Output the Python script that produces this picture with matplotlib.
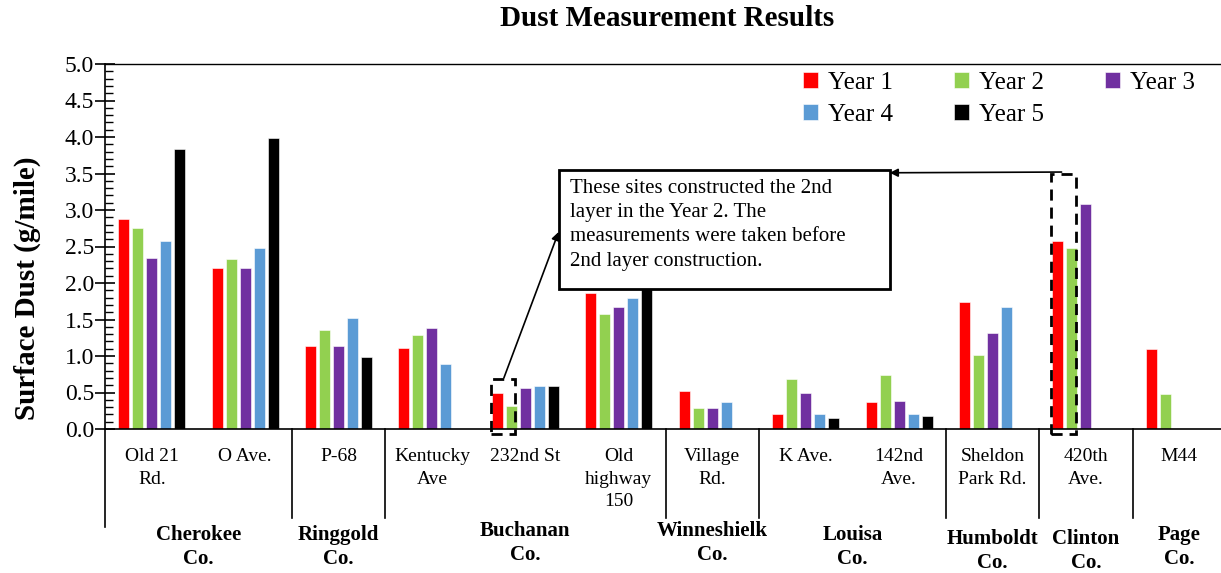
import numpy as np
import matplotlib
matplotlib.use("Agg")
import matplotlib.pyplot as plt
from matplotlib.patches import Rectangle
from matplotlib.ticker import MultipleLocator
import matplotlib.transforms as mtransforms

plt.rcParams['font.family'] = ['Liberation Serif', 'DejaVu Serif']

nan = np.nan
sites = ['Old 21\nRd.', 'O Ave.', 'P-68', 'Kentucky\nAve', '232nd St',
         'Old\nhighway\n150', 'Village\nRd.', 'K Ave.', '142nd\nAve.',
         'Sheldon\nPark Rd.', '420th\nAve.', 'M44']
counties = ['Cherokee\nCo.', 'Ringgold\nCo.', 'Buchanan\nCo.', 'Winneshielk\nCo.',
            'Louisa\nCo.', 'Humboldt\nCo.', 'Clinton\nCo.', 'Page\nCo.']
county_sites = [2, 1, 3, 1, 2, 1, 1, 1]

year_names = ['Year 1', 'Year 2', 'Year 3', 'Year 4', 'Year 5']
year1 = [2.88, 2.21, 1.14, 1.11, 0.49, 1.86, 0.52, 0.20, 0.37, 1.74, 2.58, 1.09]
year2 = [2.76, 2.33, 1.35, 1.29, 0.31, 1.58, 0.29, 0.69, 0.74, 1.01, 2.48, 0.48]
year3 = [2.34, 2.21, 1.14, 1.39, 0.56, 1.67, 0.29, 0.49, 0.39, 1.31, 3.08, nan]
year4 = [2.57, 2.48, 1.52, 0.89, 0.59, 1.79, 0.37, 0.20, 0.20, 1.67, nan, nan]
year5 = [3.84, 3.98, 0.99, nan, 0.59, 2.30, nan, 0.15, 0.18, nan, nan, nan]
colors = ['#FF0000', '#92D050', '#7030A0', '#5B9BD5', '#000000']

note = ("These sites constructed the 2nd\nlayer in the Year 2. The\n"
        "measurements were taken before\n2nd layer construction.")

fig = plt.figure(figsize=(12.21, 5.73), dpi=100)
ax = fig.add_axes([105/1221, 1-429/573, 1121/1221, 365/573])

x = np.arange(len(sites))
step = 0.15
w = 0.118
handles = []
for k, vals in enumerate([year1, year2, year3, year4, year5]):
    b = ax.bar(x + (k-2)*step, vals, w, color=colors[k], label=year_names[k],
               edgecolor='white', linewidth=0.4, zorder=2)
    handles.append(b)

ax.set_xlim(-0.5, len(sites)-0.5)
ax.set_ylim(0, 5.0)
ax.yaxis.set_major_locator(MultipleLocator(0.5))
ax.yaxis.set_minor_locator(MultipleLocator(0.1))
ax.yaxis.set_major_formatter(matplotlib.ticker.FormatStrFormatter('%.1f'))
ax.tick_params(axis='y', which='major', direction='inout', length=14, width=1.2,
               labelsize=17, pad=1)
ax.tick_params(axis='y', which='minor', direction='in', length=6, width=1)
ax.set_xticks(x)
ax.set_xticklabels(sites, fontsize=14, linespacing=1.42)
ax.tick_params(axis='x', length=0, pad=14)
ax.spines['right'].set_visible(False)
for s in ['left', 'bottom']:
    ax.spines[s].set_linewidth(1.2)
ax.spines['top'].set_linewidth(1.0)

ax.set_ylabel('Surface Dust (g/mile)', fontsize=21, fontweight='bold')
ax.yaxis.set_label_coords(-0.057, 0.385)
fig.text(667/1221, 1-19/573, 'Dust Measurement Results', fontsize=21,
         fontweight='bold', ha='center', va='center')

# county level of the category axis
trans = mtransforms.blended_transform_factory(ax.transData, ax.transAxes)
bounds = np.concatenate([[0], np.cumsum(county_sites)]) - 0.5
for i, bnd in enumerate(bounds[:-1]):
    ylow = -0.268 if i == 0 else -0.243
    ax.plot([bnd, bnd], [0, ylow], color='black', lw=1.2, transform=trans, clip_on=False)
county_dy = [0, 0, 0.011, 0.011, 0, -0.011, -0.011, 0]
for i, name in enumerate(counties):
    cx = (bounds[i] + bounds[i+1]) / 2
    ax.text(cx, -0.262 + county_dy[i], name, transform=trans, ha='center', va='top',
            fontsize=15, fontweight='bold', linespacing=1.32)

# note box
ax.add_patch(Rectangle((4.36, 1.92), 3.54, 1.63, facecolor='white', edgecolor='black',
                       lw=2, zorder=4))
ax.text(4.48, 3.43, note, fontsize=15, ha='left', va='top', linespacing=1.38, zorder=5)

# dashed boxes around the sites
for i, top in [(4, 0.69), (10, 3.50)]:
    left = i - 2*step - w/2 - 0.01
    right = i - step + w/2 - 0.02
    ax.add_patch(Rectangle((left, -0.07), right-left, top+0.07, fill=False,
                           edgecolor='black', lw=2, ls=(0, (4, 2.5)), zorder=3,
                           clip_on=False))
ax.annotate('', xy=(4.356, 2.70), xytext=(3.77, 0.70),
            arrowprops=dict(arrowstyle='-|>', color='black', lw=1.2,
                            mutation_scale=12, shrinkA=0, shrinkB=0), zorder=5)
ax.annotate('', xy=(7.90, 3.51), xytext=(9.74, 3.52),
            arrowprops=dict(arrowstyle='-|>', color='black', lw=1.2,
                            mutation_scale=12, shrinkA=0, shrinkB=0), zorder=5)

order = [0, 3, 1, 4, 2]
ax.legend([handles[i] for i in order], [year_names[i] for i in order], ncol=3,
          loc='upper left', bbox_to_anchor=(0.6115, 1.012), frameon=False, fontsize=18,
          handlelength=0.6, handleheight=0.6, handletextpad=0.4, columnspacing=2.45,
          labelspacing=0.38, borderpad=0)

fig.savefig('out.png', dpi=100)
